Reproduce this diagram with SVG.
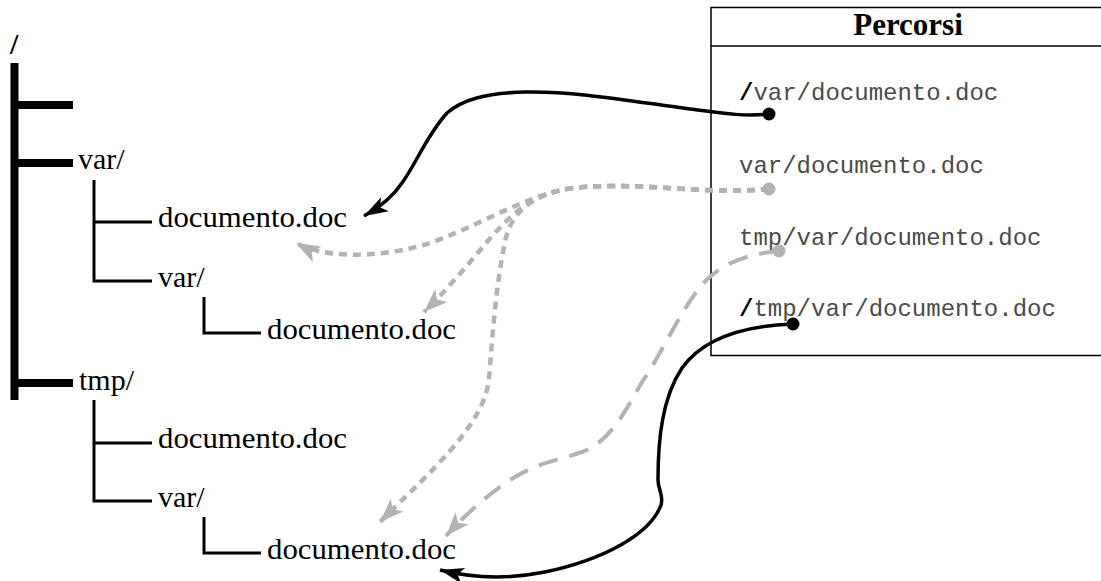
<svg xmlns="http://www.w3.org/2000/svg" width="1101" height="581" viewBox="0 0 1101 581">
<style>
.serif{font-family:"Liberation Serif","Times New Roman",serif;font-size:30px;fill:#000}
.mono{font-family:"Liberation Mono","Courier New",monospace;font-size:24px;fill:#4a4a4a}
.slash{font-weight:bold;fill:#000}
.thick{stroke:#000;stroke-width:8;fill:none}
.thin{stroke:#000;stroke-width:3;fill:none}
.blk{stroke:#000;stroke-width:3.5;fill:none}
.dot{stroke:#b3b3b3;stroke-width:4.5;fill:none;stroke-dasharray:8 6}
.dash{stroke:#b3b3b3;stroke-width:4;fill:none;stroke-dasharray:20 12}
</style>
<defs>
<marker id="ab" markerUnits="userSpaceOnUse" markerWidth="28" markerHeight="20" refX="24" refY="10" orient="auto" viewBox="0 0 28 20">
<path d="M0,2 L24,10 L0,18 L6,10 Z" fill="#000"/>
</marker>
<marker id="ag" markerUnits="userSpaceOnUse" markerWidth="28" markerHeight="20" refX="24" refY="10" orient="auto" viewBox="0 0 28 20">
<path d="M0,1 L24,10 L0,19 L6,10 Z" fill="#b3b3b3"/>
</marker>
</defs>
<rect width="1101" height="581" fill="#fff"/>

<g id="tree">
<g id="root"><text class="serif" x="10" y="54" font-weight="bold">/</text>
<path class="thick" d="M14.5,63 V400"/></g>
<g id="n-empty"><path class="thick" d="M14.5,105 H73"/></g>
<g id="n-var"><path class="thick" d="M14.5,163 H73"/><text class="serif" x="78" y="169">var/</text>
<path class="thin" d="M94,180 V281 H152 M94,222 H152"/></g>
<g id="n-var-doc"><text class="serif" x="158" y="227" textLength="189" lengthAdjust="spacingAndGlyphs">documento.doc</text></g>
<g id="n-var-var"><text class="serif" x="158" y="287">var/</text>
<path class="thin" d="M204,297 V333 H261"/></g>
<g id="n-var-var-doc"><text class="serif" x="267" y="339" textLength="189" lengthAdjust="spacingAndGlyphs">documento.doc</text></g>
<g id="n-tmp"><path class="thick" d="M14.5,383 H73"/><text class="serif" x="79" y="390">tmp/</text>
<path class="thin" d="M94,400 V501 H152 M94,443 H152"/></g>
<g id="n-tmp-doc"><text class="serif" x="158" y="448" textLength="189" lengthAdjust="spacingAndGlyphs">documento.doc</text></g>
<g id="n-tmp-var"><text class="serif" x="158" y="507">var/</text>
<path class="thin" d="M204,517 V553 H261"/></g>
<g id="n-tmp-var-doc"><text class="serif" x="267" y="559" textLength="189" lengthAdjust="spacingAndGlyphs">documento.doc</text></g>
</g>

<g id="percorsi">
<rect x="711" y="7.5" width="400" height="348" fill="none" stroke="#000" stroke-width="1.5"/>
<line x1="711" y1="46" x2="1101" y2="46" stroke="#000" stroke-width="1.5"/>
<text x="908" y="35" text-anchor="middle" font-family="Liberation Serif,serif" font-weight="bold" font-size="31">Percorsi</text>
<text class="mono" x="739" y="100"><tspan class="slash">/</tspan>var/documento.doc</text>
<text class="mono" x="739" y="173">var/documento.doc</text>
<text class="mono" x="739" y="245">tmp/var/documento.doc</text>
<text class="mono" x="739" y="316"><tspan class="slash">/</tspan>tmp/var/documento.doc</text>
</g>

<g id="connectors">
<path class="blk" marker-end="url(#ab)" d="M769,114 C740,117 715,112 690,109 C630,101 575,91 525,92 C485,93 462,100 447,113 C427,135 417,162 402,183 C394,195 382,206 364,216"/>
<path class="dot" marker-end="url(#ag)" d="M769,189 C700,195 640,181 573,188 C525,194 470,232 420,246 C370,259 322,257 296,243"/>
<path class="dot" marker-end="url(#ag)" d="M769,189 C700,195 640,181 573,188 C530,194 512,215 492,236 C470,262 447,290 424,312"/>
<path class="dot" marker-end="url(#ag)" d="M769,189 C700,195 640,181 573,188 C530,194 510,215 505,242 C496,285 493,330 489,378 C485,425 430,472 380,522"/>
<path class="dash" marker-end="url(#ag)" d="M779,251 C745,254 718,265 700,287 C680,312 658,360 642,382 C626,410 610,442 582,452 C556,461 540,462 515,477 C490,492 465,515 446,536"/>
<path class="blk" marker-end="url(#ab)" d="M793,324 C740,326 702,340 682,368 C662,398 658,440 658,480 C658,490 664,495 661,505 C650,535 602,560 545,572 C505,580 472,578 440,570"/>
<circle cx="769" cy="114" r="6.5" fill="#000"/>
<circle cx="769" cy="189" r="6.5" fill="#b3b3b3"/>
<circle cx="779" cy="251" r="6.5" fill="#b3b3b3"/>
<circle cx="793" cy="324" r="6.5" fill="#000"/>
</g>
</svg>
